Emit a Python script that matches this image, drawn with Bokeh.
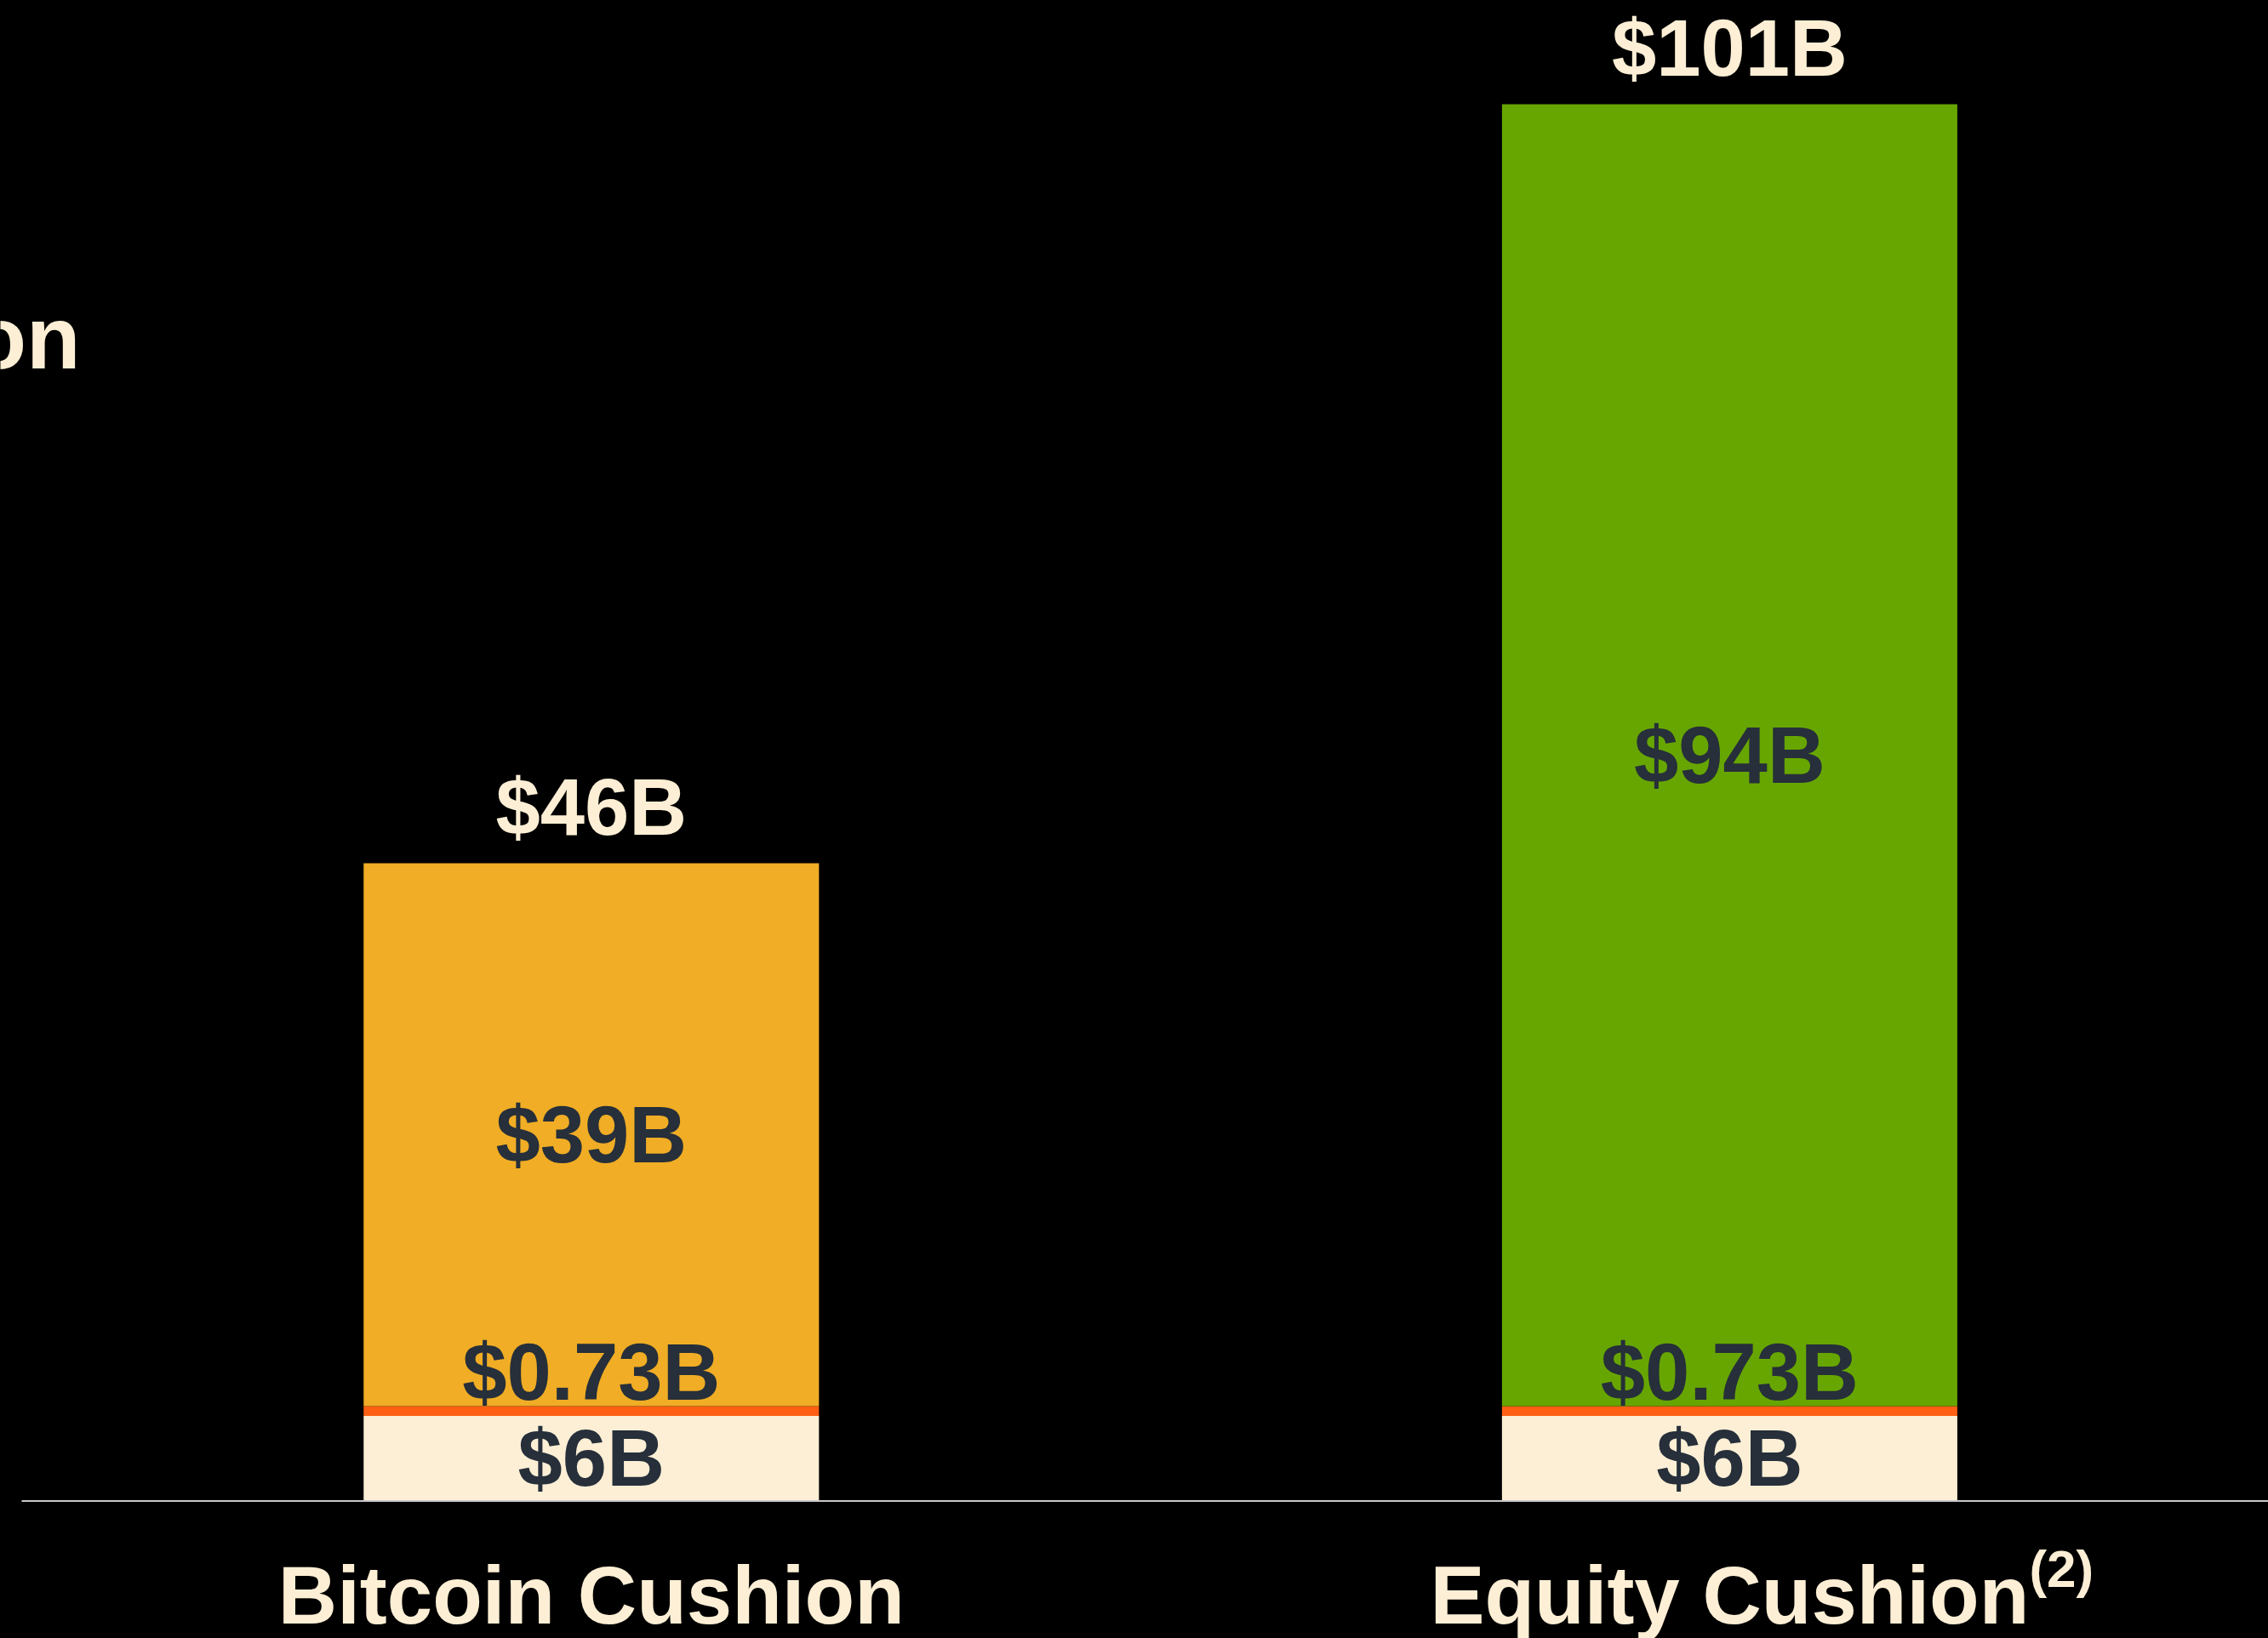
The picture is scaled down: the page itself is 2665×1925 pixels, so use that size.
import numpy as np
from bokeh.plotting import figure
from bokeh.models import Range1d, Label, ColumnDataSource
from bokeh.core.properties import value
from bokeh.embed import file_html
from bokeh.resources import INLINE

# ---------------- data ----------------
categories = ["Bitcoin Cushion", "Equity Cushion"]
footnotes = ["", "(2)"]
base_values = [6.15, 6.15]
base_labels = ["$6B", "$6B"]
band_values = [0.70, 0.70]
band_labels = ["$0.73B", "$0.73B"]
top_values = [39.2, 94.0]
top_labels = ["$39B", "$94B"]
total_labels = ["$46B", "$101B"]
side_text = "on"

# ---------------- style ----------------
BG = "#000000"
CREAM = "#FDEFD5"
DARK = "#262F3A"
BAND = "#FF5F13"
TOP_COLORS = ["#F0AD25", "#67A600"]
AXIS_GRAY = "#C8C8CC"
FONT_NAME = "Liberation Sans"
FONT = value(FONT_NAME)

W, H = 2665, 1925
PX_PER_UNIT = 16.277
BASELINE_PX = 1763.5        # zero line from the top of the frame
SLOT_PX = 1337.6            # distance between category centres
FIRST_CENTER_PX = 694.3     # first category centre from frame left
LINE_START_PX = 25          # where the zero line starts
BAR_WIDTH = 0.40

x = np.arange(len(categories), dtype=float)
base = np.array(base_values)
band = np.array(band_values)
top = np.array(top_values)
b0 = np.zeros_like(base)
b1 = b0 + base
b2 = b1 + band
b3 = b2 + top

x_start = -FIRST_CENTER_PX / SLOT_PX
x_end = x_start + W / SLOT_PX
y_end = BASELINE_PX / PX_PER_UNIT
y_start = -(H - BASELINE_PX) / PX_PER_UNIT

p = figure(width=W, height=H, output_backend="svg", toolbar_location=None,
           x_range=Range1d(x_start, x_end), y_range=Range1d(y_start, y_end),
           x_axis_location=None, y_axis_location=None,
           min_border_left=0, min_border_right=0,
           min_border_top=0, min_border_bottom=0)
p.background_fill_color = BG
p.border_fill_color = BG
p.outline_line_color = None
p.xgrid.visible = False
p.ygrid.visible = False

src = ColumnDataSource(dict(
    x=x, b0=b0, b1=b1, b2=b2, b3=b3,
    mid_base=(b0 + b1) / 2, mid_top=(b2 + b3) / 2,
    top_color=TOP_COLORS,
    base_labels=base_labels, band_labels=band_labels,
    top_labels=top_labels, total_labels=total_labels,
    categories=categories, footnotes=footnotes,
))

p.vbar(x="x", bottom="b0", top="b1", width=BAR_WIDTH, source=src,
       fill_color=CREAM, line_color=None)
p.vbar(x="x", bottom="b1", top="b2", width=BAR_WIDTH, source=src,
       fill_color=BAND, line_color=None)
p.vbar(x="x", bottom="b2", top="b3", width=BAR_WIDTH, source=src,
       fill_color="top_color", line_color=None)

# zero line
p.segment(x0=[x_start + LINE_START_PX / SLOT_PX], y0=[0], x1=[x_end], y1=[0],
          line_color=AXIS_GRAY, line_width=2)

common = dict(source=src, text_font=FONT, text_font_style="bold",
              text_align="center", text_baseline="middle")
p.text(x="x", y="mid_base", text="base_labels", text_color=DARK,
       text_font_size="94px", **common)
p.text(x="x", y="b2", text="band_labels", text_color=DARK,
       text_font_size="94px", y_offset=-40, **common)
p.text(x="x", y="mid_top", text="top_labels", text_color=DARK,
       text_font_size="94px", **common)
p.text(x="x", y="b3", text="total_labels", text_color=CREAM,
       text_font_size="94px", y_offset=-66, **common)
p.text(x="x", y="b0", text="categories", text_color=CREAM,
       text_font_size="96px", y_offset=110, **common)
p.text(x="x", y="b0", text="footnotes", text_color=CREAM, source=src,
       text_font=FONT, text_font_style="bold", text_align="left",
       text_font_size="62px", text_baseline="middle",
       x_offset=352, y_offset=79)

p.add_layout(Label(x=94, y=H - 396, x_units="screen", y_units="screen",
                   text=side_text, text_color=CREAM, text_font=FONT_NAME,
                   text_font_style="bold", text_font_size="104px",
                   text_align="right", text_baseline="middle"))

html = file_html(p, INLINE)
html = html.replace("<head>", "<head><style>html,body{background:#000000;}</style>", 1)
open("out.html", "w").write(html)
